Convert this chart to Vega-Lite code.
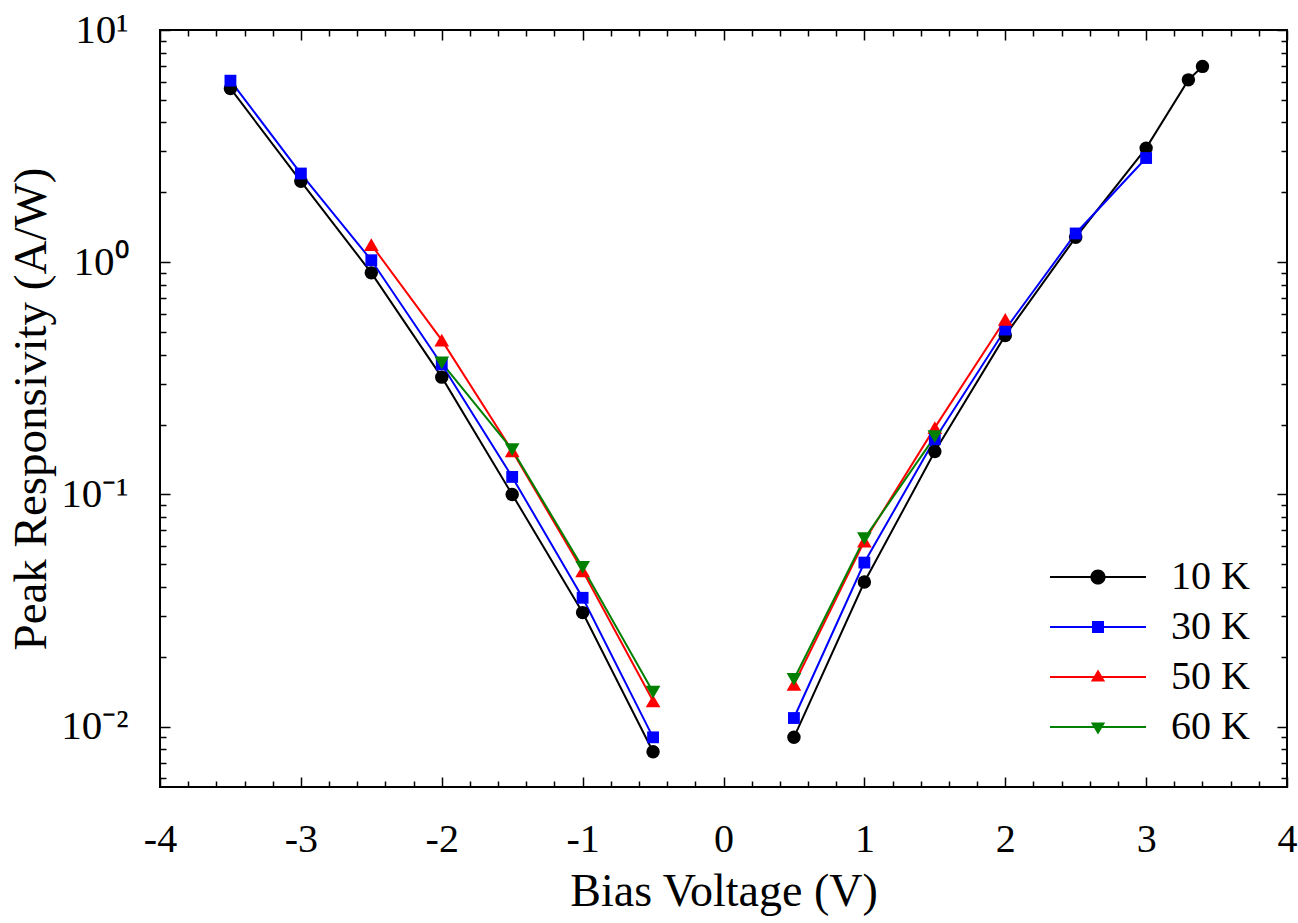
{
  "$schema": "https://vega.github.io/schema/vega-lite/v6.json",
  "width": 1127,
  "height": 757,
  "autosize": "none",
  "padding": {"left": 160, "top": 30, "right": 11, "bottom": 136},
  "background": "white",
  "config": {
    "view": {"stroke": "black", "strokeWidth": 2},
    "font": "Liberation Serif",
    "axis": {"domain": false, "grid": false, "tickColor": "black", "labelColor": "black", "titleColor": "black", "labelFont": "Liberation Serif", "titleFont": "Liberation Serif", "titleFontWeight": "normal"}
  },
  "data": {
    "values": [
      {"V": -3.5, "R": 5.6, "T": "10 K", "side": "n"},
      {"V": -3.0, "R": 2.23, "T": "10 K", "side": "n"},
      {"V": -2.5, "R": 0.9, "T": "10 K", "side": "n"},
      {"V": -2.0, "R": 0.32, "T": "10 K", "side": "n"},
      {"V": -1.5, "R": 0.1, "T": "10 K", "side": "n"},
      {"V": -1.0, "R": 0.031, "T": "10 K", "side": "n"},
      {"V": -0.5, "R": 0.0078, "T": "10 K", "side": "n"},
      {"V": 0.5, "R": 0.009, "T": "10 K", "side": "p"},
      {"V": 1.0, "R": 0.042, "T": "10 K", "side": "p"},
      {"V": 1.5, "R": 0.153, "T": "10 K", "side": "p"},
      {"V": 2.0, "R": 0.484, "T": "10 K", "side": "p"},
      {"V": 2.5, "R": 1.28, "T": "10 K", "side": "p"},
      {"V": 3.0, "R": 3.1, "T": "10 K", "side": "p"},
      {"V": 3.3, "R": 6.1, "T": "10 K", "side": "p"},
      {"V": 3.4, "R": 6.97, "T": "10 K", "side": "p"},
      {"V": -3.5, "R": 6.05, "T": "30 K", "side": "n"},
      {"V": -3.0, "R": 2.41, "T": "30 K", "side": "n"},
      {"V": -2.5, "R": 1.02, "T": "30 K", "side": "n"},
      {"V": -2.0, "R": 0.363, "T": "30 K", "side": "n"},
      {"V": -1.5, "R": 0.119, "T": "30 K", "side": "n"},
      {"V": -1.0, "R": 0.0359, "T": "30 K", "side": "n"},
      {"V": -0.5, "R": 0.009, "T": "30 K", "side": "n"},
      {"V": 0.5, "R": 0.0109, "T": "30 K", "side": "p"},
      {"V": 1.0, "R": 0.0509, "T": "30 K", "side": "p"},
      {"V": 1.5, "R": 0.173, "T": "30 K", "side": "p"},
      {"V": 2.0, "R": 0.513, "T": "30 K", "side": "p"},
      {"V": 2.5, "R": 1.33, "T": "30 K", "side": "p"},
      {"V": 3.0, "R": 2.81, "T": "30 K", "side": "p"},
      {"V": -2.5, "R": 1.19, "T": "50 K", "side": "n"},
      {"V": -2.0, "R": 0.462, "T": "50 K", "side": "n"},
      {"V": -1.5, "R": 0.154, "T": "50 K", "side": "n"},
      {"V": -1.0, "R": 0.0469, "T": "50 K", "side": "n"},
      {"V": -0.5, "R": 0.0129, "T": "50 K", "side": "n"},
      {"V": 0.5, "R": 0.0152, "T": "50 K", "side": "p"},
      {"V": 1.0, "R": 0.063, "T": "50 K", "side": "p"},
      {"V": 1.5, "R": 0.194, "T": "50 K", "side": "p"},
      {"V": 2.0, "R": 0.567, "T": "50 K", "side": "p"},
      {"V": -2.0, "R": 0.369, "T": "60 K", "side": "n"},
      {"V": -1.5, "R": 0.156, "T": "60 K", "side": "n"},
      {"V": -1.0, "R": 0.0485, "T": "60 K", "side": "n"},
      {"V": -0.5, "R": 0.0141, "T": "60 K", "side": "n"},
      {"V": 0.5, "R": 0.016, "T": "60 K", "side": "p"},
      {"V": 1.0, "R": 0.0646, "T": "60 K", "side": "p"},
      {"V": 1.5, "R": 0.1775, "T": "60 K", "side": "p"}
    ]
  },
  "resolve": {"axis": {"x": "independent", "y": "independent"}},
  "layer": [
    {
      "mark": {"type": "line", "strokeWidth": 2},
      "encoding": {
        "x": {"field": "V", "type": "quantitative", "scale": {"domain": [-4, 4], "nice": false, "zero": false},
          "axis": {"orient": "bottom", "values": [-4, -3, -2, -1, 0, 1, 2, 3, 4], "ticks": false, "labelFontSize": 40, "labelPadding": 32, "labelExpr": "'' + datum.value", "labelFlush": false, "labelOverlap": false, "title": "Bias Voltage (V)", "titleFontSize": 46, "titlePadding": 10}},
        "y": {"field": "R", "type": "quantitative", "scale": {"type": "log", "domain": [0.0055, 10], "nice": false},
          "axis": {"orient": "left", "values": [0.01, 0.1, 1, 10], "ticks": false, "labelFontSize": 41, "labelPadding": 32, "labelFlush": false, "labelOverlap": false, "labelExpr": "datum.value > 5 ? '10¹' : datum.value > 0.5 ? '10⁰' : datum.value > 0.05 ? '10⁻¹' : '10⁻²'", "title": "Peak Responsivity (A/W)", "titleFontSize": 47, "titlePadding": 5}},
        "color": {"field": "T", "type": "nominal",
          "scale": {"domain": ["10 K", "30 K", "50 K", "60 K"], "range": ["#000000", "#0000ff", "#ff0000", "#008000"]},
          "legend": {"title": null, "orient": "none", "legendX": 918, "legendY": 527, "padding": 0, "symbolSize": 1600, "symbolStrokeWidth": 0, "symbolOpacity": 1, "labelOffset": 53, "rowPadding": 10, "labelFontSize": 40, "labelFont": "Liberation Serif", "labelColor": "black"}},
        "detail": {"field": "side", "type": "nominal"}
      }
    },
    {
      "mark": {"type": "point", "filled": true, "opacity": 0, "strokeWidth": 0},
      "encoding": {
        "x": {"field": "V", "type": "quantitative", "axis": null},
        "y": {"field": "R", "type": "quantitative", "axis": null},
        "color": {"field": "T", "type": "nominal",
          "legend": {"title": null, "orient": "none", "legendX": 918, "legendY": 527, "padding": 0, "symbolSize": 1600, "symbolStrokeWidth": 0, "symbolOpacity": 1, "labelOffset": 53, "rowPadding": 10, "labelFontSize": 40, "labelFont": "Liberation Serif", "labelColor": "black"}},
        "shape": {"field": "T", "type": "nominal",
          "scale": {"domain": ["10 K", "30 K", "50 K", "60 K"], "range": [
            "M-2.4,-0.05H2.4V0.05H-2.4ZM0.38,0A0.38,0.38,0,1,1,-0.38,0A0.38,0.38,0,1,1,0.38,0Z",
            "M-2.4,-0.05H2.4V0.05H-2.4ZM-0.3,-0.3H0.3V0.3H-0.3Z",
            "M-2.4,-0.05H2.4V0.05H-2.4ZM0,-0.38L0.36,0.23H-0.36Z",
            "M-2.4,-0.05H2.4V0.05H-2.4ZM0,0.38L-0.36,-0.23H0.36Z"]},
          "legend": {"title": null, "orient": "none", "legendX": 918, "legendY": 527, "padding": 0, "symbolSize": 1600, "symbolStrokeWidth": 0, "symbolOpacity": 1, "labelOffset": 53, "rowPadding": 10, "labelFontSize": 40, "labelFont": "Liberation Serif", "labelColor": "black"}}
      }
    },
    {
      "transform": [{"filter": "datum.T === '10 K'"}],
      "mark": {"type": "point", "filled": true, "opacity": 1, "strokeWidth": 0, "shape": "circle", "size": 180, "color": "#000000"},
      "encoding": {
        "x": {"field": "V", "type": "quantitative",
          "axis": {"orient": "bottom", "values": [-4, -3, -2, -1, 0, 1, 2, 3, 4], "labels": false, "tickSize": -10, "tickWidth": 1.5, "title": null}},
        "y": {"field": "R", "type": "quantitative",
          "axis": {"orient": "left", "values": [0.01, 0.1, 1, 10], "labels": false, "tickSize": -10, "tickWidth": 1.5, "title": null}}
      }
    },
    {
      "transform": [{"filter": "datum.T === '30 K'"}],
      "mark": {"type": "point", "filled": true, "opacity": 1, "strokeWidth": 0, "shape": "square", "size": 140, "color": "#0000ff"},
      "encoding": {
        "x": {"field": "V", "type": "quantitative", "axis": null},
        "y": {"field": "R", "type": "quantitative", "axis": null}
      }
    },
    {
      "transform": [{"filter": "datum.T === '50 K'"}],
      "mark": {"type": "point", "filled": true, "opacity": 1, "strokeWidth": 0, "shape": "triangle-up", "size": 215, "color": "#ff0000"},
      "encoding": {
        "x": {"field": "V", "type": "quantitative", "axis": null},
        "y": {"field": "R", "type": "quantitative", "axis": null}
      }
    },
    {
      "transform": [{"filter": "datum.T === '60 K'"}],
      "mark": {"type": "point", "filled": true, "opacity": 1, "strokeWidth": 0, "shape": "triangle-down", "size": 215, "color": "#008000"},
      "encoding": {
        "x": {"field": "V", "type": "quantitative", "axis": null},
        "y": {"field": "R", "type": "quantitative", "axis": null}
      }
    },
    {
      "mark": {"type": "point", "opacity": 0},
      "encoding": {
        "x": {"field": "V", "type": "quantitative",
          "axis": {"orient": "bottom", "values": [-3.8, -3.6, -3.4, -3.2, -2.8, -2.6, -2.4, -2.2, -1.8, -1.6, -1.4, -1.2, -0.8, -0.6, -0.4, -0.2, 0.2, 0.4, 0.6, 0.8, 1.2, 1.4, 1.6, 1.8, 2.2, 2.4, 2.6, 2.8, 3.2, 3.4, 3.6, 3.8], "labels": false, "tickSize": -6, "tickWidth": 1.5, "title": null}},
        "y": {"field": "R", "type": "quantitative",
          "axis": {"orient": "left", "values": [0.006, 0.007, 0.008, 0.009, 0.02, 0.03, 0.04, 0.05, 0.06, 0.07, 0.08, 0.09, 0.2, 0.3, 0.4, 0.5, 0.6, 0.7, 0.8, 0.9, 2, 3, 4, 5, 6, 7, 8, 9], "labels": false, "tickSize": -6, "tickWidth": 1.5, "title": null}}
      }
    },
    {
      "mark": {"type": "point", "opacity": 0},
      "encoding": {
        "x": {"field": "V", "type": "quantitative",
          "axis": {"orient": "top", "values": [-4, -3, -2, -1, 0, 1, 2, 3, 4], "labels": false, "tickSize": -10, "tickWidth": 1.5, "title": null}},
        "y": {"field": "R", "type": "quantitative",
          "axis": {"orient": "right", "values": [0.01, 0.1, 1, 10], "labels": false, "tickSize": -10, "tickWidth": 1.5, "title": null}}
      }
    },
    {
      "mark": {"type": "point", "opacity": 0},
      "encoding": {
        "x": {"field": "V", "type": "quantitative",
          "axis": {"orient": "top", "values": [-3.8, -3.6, -3.4, -3.2, -2.8, -2.6, -2.4, -2.2, -1.8, -1.6, -1.4, -1.2, -0.8, -0.6, -0.4, -0.2, 0.2, 0.4, 0.6, 0.8, 1.2, 1.4, 1.6, 1.8, 2.2, 2.4, 2.6, 2.8, 3.2, 3.4, 3.6, 3.8], "labels": false, "tickSize": -6, "tickWidth": 1.5, "title": null}},
        "y": {"field": "R", "type": "quantitative",
          "axis": {"orient": "right", "values": [0.006, 0.007, 0.008, 0.009, 0.02, 0.03, 0.04, 0.05, 0.06, 0.07, 0.08, 0.09, 0.2, 0.3, 0.4, 0.5, 0.6, 0.7, 0.8, 0.9, 2, 3, 4, 5, 6, 7, 8, 9], "labels": false, "tickSize": -6, "tickWidth": 1.5, "title": null}}
      }
    }
  ]
}
